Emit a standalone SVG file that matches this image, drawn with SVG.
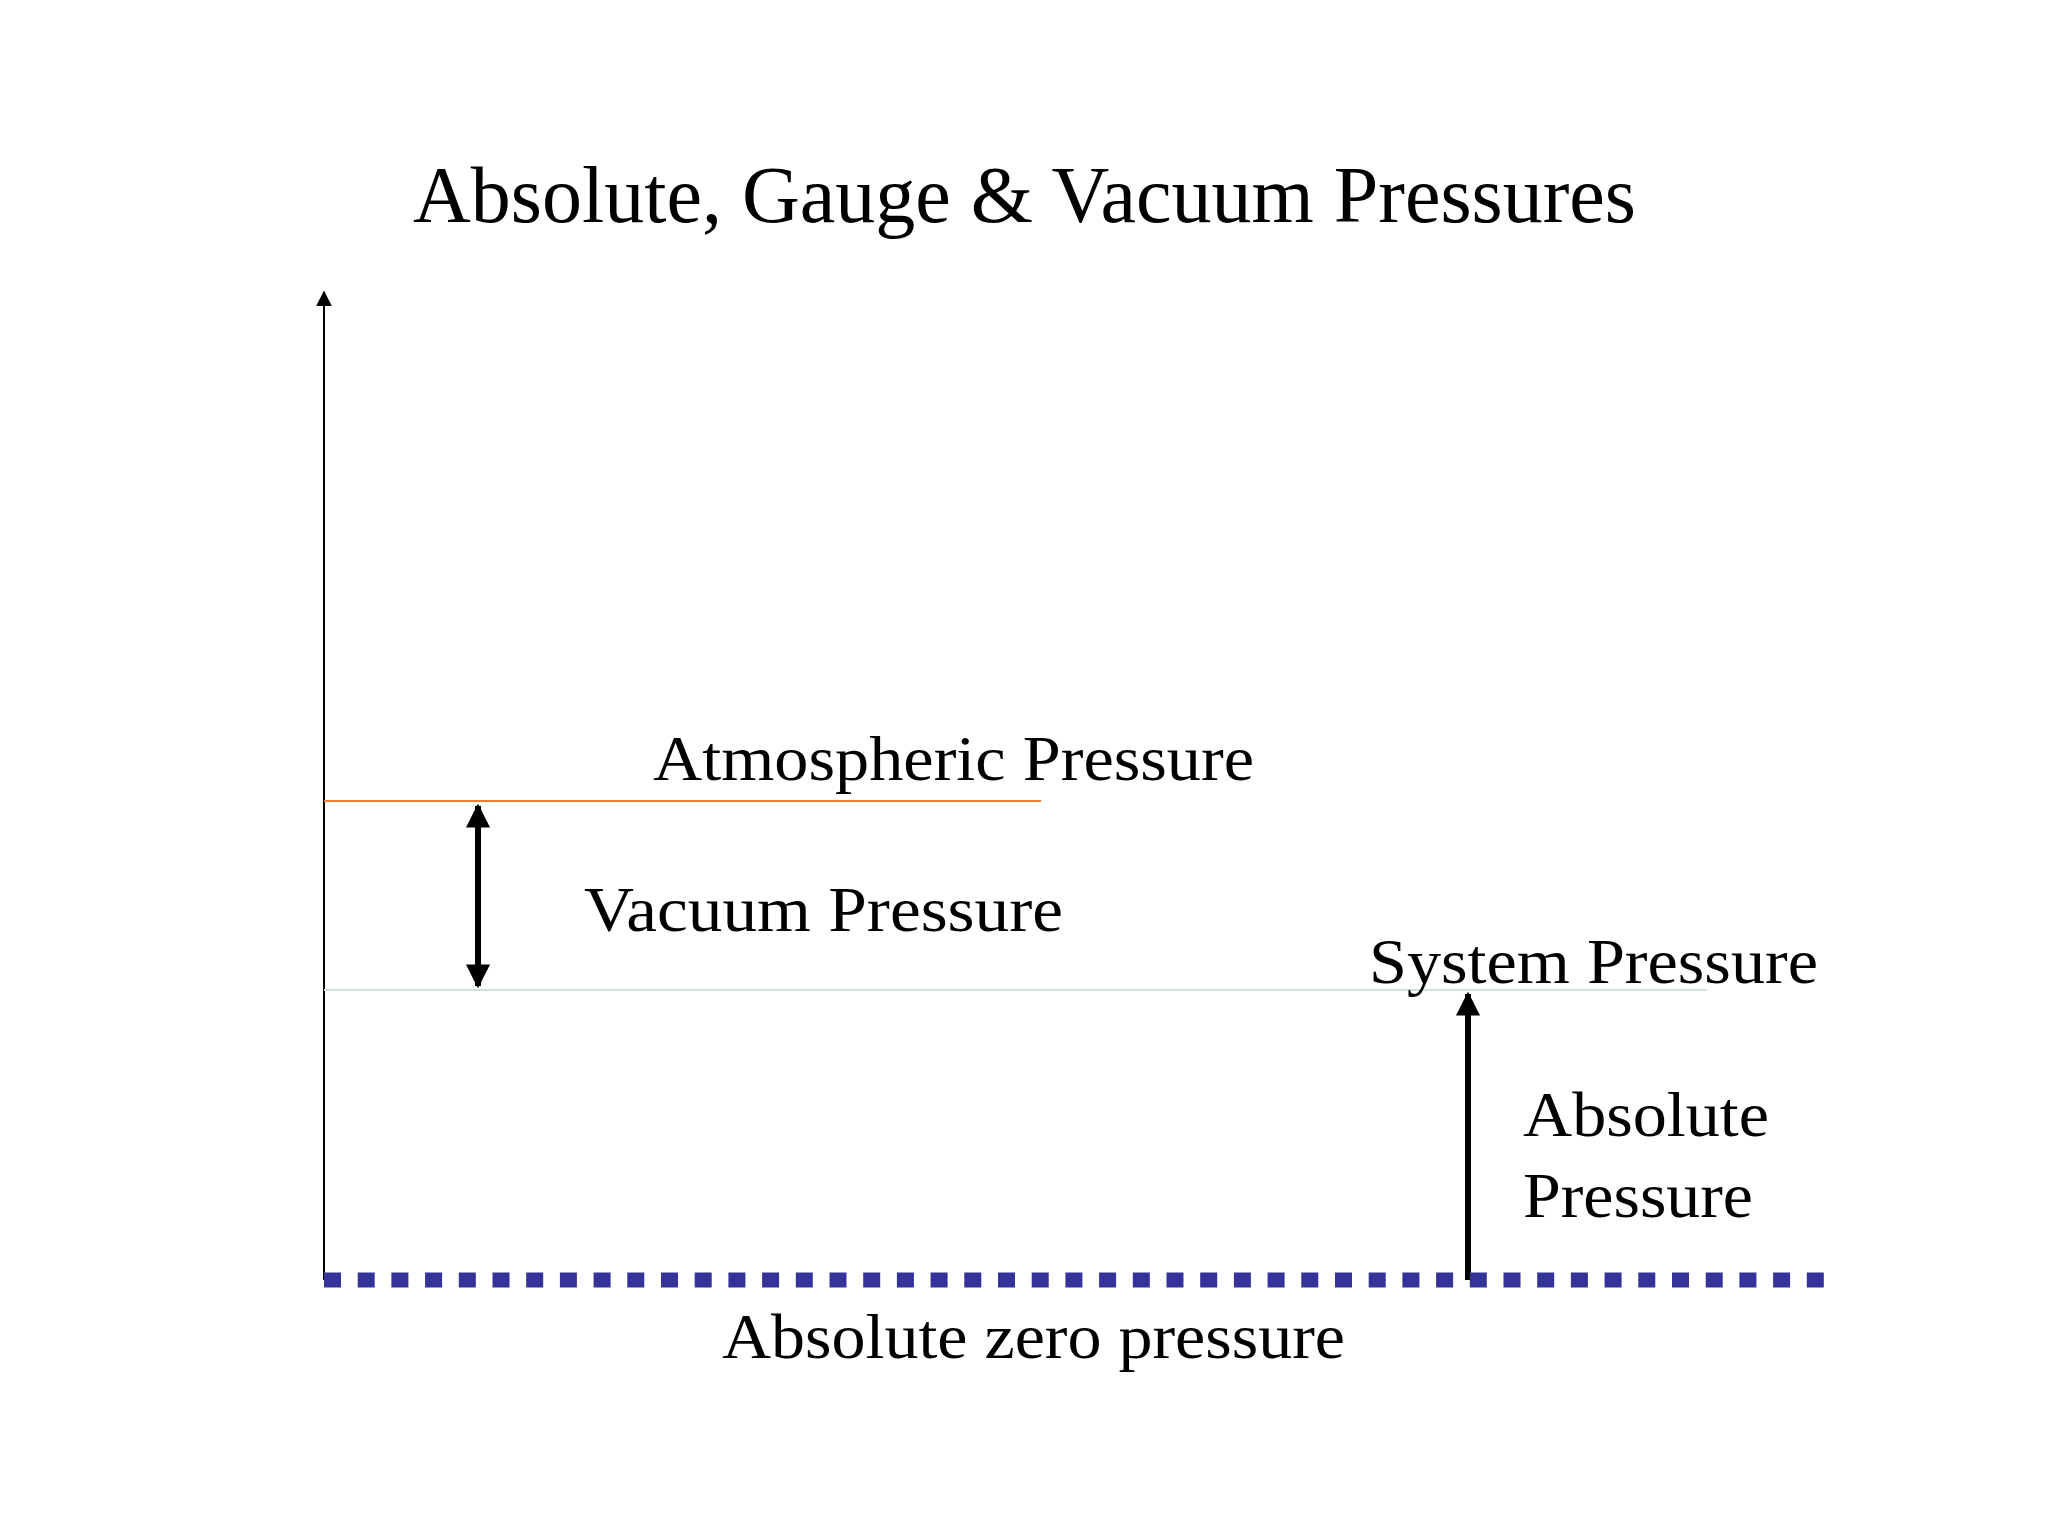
<svg xmlns="http://www.w3.org/2000/svg" width="2048" height="1536" viewBox="0 0 2048 1536">
<defs>
<style>
text{font-family:"Liberation Serif","Times New Roman",serif;fill:#000}
.t{font-size:64px}
</style>
<marker id="ah" viewBox="0 0 10 10" refX="9" refY="5" markerWidth="4" markerHeight="4" orient="auto-start-reverse"><path d="M0,0 L10,5 L0,10 z" fill="#000"/></marker>
<marker id="ahs" viewBox="0 0 10 10" refX="9" refY="5" markerWidth="8" markerHeight="8" orient="auto"><path d="M0,0 L10,5 L0,10 z" fill="#000"/></marker>
</defs>
<rect width="2048" height="1536" fill="#fff"/>
<text x="413" y="222" font-size="80" textLength="1223" lengthAdjust="spacingAndGlyphs">Absolute, Gauge &amp; Vacuum Pressures</text>
<g id="connectors">
<line x1="324" y1="1280" x2="324" y2="292" stroke="#000" stroke-width="2" marker-end="url(#ahs)"/>
<line x1="324" y1="801" x2="1041" y2="801" stroke="#ee7d31" stroke-width="2"/>
<line x1="324" y1="990" x2="1707" y2="990" stroke="#cfe0e0" stroke-width="2"/>
<line x1="478" y1="806" x2="478" y2="986" stroke="#000" stroke-width="6" marker-start="url(#ah)" marker-end="url(#ah)"/>
<line x1="1468" y1="1280" x2="1468" y2="994" stroke="#000" stroke-width="6" marker-end="url(#ah)"/>
<line x1="324" y1="1280" x2="1839" y2="1280" stroke="#333399" stroke-width="15" stroke-dasharray="17 16.7"/>
</g>
<g id="atm"><text class="t" x="653" y="780" textLength="601" lengthAdjust="spacingAndGlyphs">Atmospheric Pressure</text></g>
<g id="vac"><text class="t" x="584" y="931" textLength="479" lengthAdjust="spacingAndGlyphs">Vacuum Pressure</text></g>
<g id="sys"><text class="t" x="1369" y="983" textLength="449" lengthAdjust="spacingAndGlyphs">System Pressure</text></g>
<g id="abs"><text class="t" x="1523" y="1136" textLength="246" lengthAdjust="spacingAndGlyphs">Absolute</text><text class="t" x="1523" y="1217" textLength="230" lengthAdjust="spacingAndGlyphs">Pressure</text></g>
<g id="zero"><text class="t" x="722" y="1358" textLength="623" lengthAdjust="spacingAndGlyphs">Absolute zero pressure</text></g>
</svg>
